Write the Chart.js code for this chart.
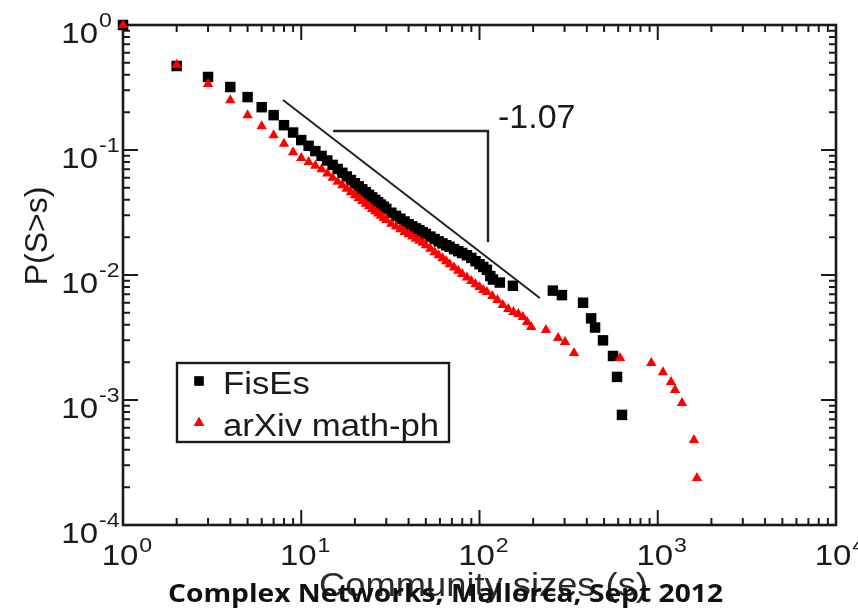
<!DOCTYPE html>
<html><head><meta charset="utf-8">
<script src="https://cdn.jsdelivr.net/npm/chart.js@4.4.0/dist/chart.umd.min.js"></script>
<style>html,body{margin:0;padding:0;background:#fff}canvas{display:block}</style>
</head><body>
<canvas id="c" width="858" height="608"></canvas>
<script>
// ---- data ----
const seriesNames = ['FisEs', 'arXiv math-ph'];

const fisesSizes = [1,2,3,4,5,6,7,8,9,10,11,12,13,14,15,16,17,18,19,20,21,22,23,24,25,26,27,28,29,30,
  32,34,36,38,40,42,44,46,48,50,53,56,59,62,65,68,72,76,80,85,90,95,100,105,110,115,119,130,154,
  258,290,381,423,445,493,561,591,630];
const fisesP = [1.0,0.47,0.384,0.319,0.265,0.22,0.19,0.158,0.138,0.120,0.108,0.098,0.0897,0.0824,0.076,0.0705,0.0657,0.0614,0.0575,0.0542,
  0.0512,0.0485,0.046,0.0438,0.0418,0.0399,0.0382,0.0366,0.0352,0.0338,
  0.0315,0.0297,0.0282,0.0268,0.0255,0.0245,0.0236,0.0228,0.022,0.0213,0.0203,0.0194,0.0186,0.0179,0.0173,0.0168,0.0161,0.0155,0.015,0.0144,0.0137,0.0129,0.0122,0.0116,0.011,0.0098,0.0092,0.0087,0.0082,
  0.0075,0.0069,0.0060,0.0045,0.0038,0.0030,0.00225,0.00153,0.00076];

const arxivSizes = [1,2,3,4,5,6,7,8,9,10,11,12,13,14,15,16,17,18,19,20,21,22,23,24,25,26,27,28,29,30,
  32,34,36,38,40,42,44,46,48,50,53,56,59,62,65,68,72,76,80,85,90,95,100,105,110,118,126,135,145,155,165,175,185,195,
  236,276,302,339,614,920,1070,1187,1250,1368,1596,1660];
const arxivP = [1.0,0.48,0.337,0.25,0.19,0.155,0.131,0.112,0.096,0.0863,0.0802,0.0748,0.0702,0.065,0.0601,0.0558,0.0522,0.049,0.0459,0.0435,
  0.0411,0.0391,0.0371,0.0354,0.0338,0.0324,0.031,0.0298,0.0286,0.0275,
  0.0257,0.0244,0.0232,0.0221,0.0212,0.0203,0.0195,0.0188,0.0181,0.0173,0.0162,0.0152,0.0144,0.0136,0.0129,0.0122,0.0115,0.0108,0.0102,0.00953,0.00895,0.00842,0.0080,0.0076,0.00731,0.00679,0.0063,0.00575,0.00535,0.00506,0.00488,0.00461,0.0042,0.00384,
  0.00363,0.00313,0.00291,0.00238,0.00217,0.00198,0.00167,0.00139,0.0012,0.000946,0.000479,0.000238];

// fitted power-law guide and slope bracket (data units)
const fitLineS = [7.9, 218];
const fitLineP = [0.251, 0.00655];
const bracketS = [15.1, 111.6, 111.6];
const bracketP = [0.142, 0.142, 0.0184];
const slopeLabel = '-1.07';
const slopeLabelAt = [127, 0.15];

const xTickExponents = [0, 1, 2, 3, 4];
const yTickExponents = [0, -1, -2, -3, -4];
const xTitle = 'Community sizes (s)';
const yTitle = 'P(S>s)';
const footerText = 'Complex Networks, Mallorca, Sept 2012';

// ---- drawing ----
const FONT = '"Liberation Sans", Arial, Helvetica, sans-serif';
const INK = '#1a1a1a';
const SX = 1.1; // horizontal stretch of the original picture's text

function sText(ctx, text, x, y, font, align, sx) {
  ctx.save();
  ctx.font = font;
  ctx.textAlign = 'left';
  ctx.textBaseline = 'alphabetic';
  const w = ctx.measureText(text).width * sx;
  let left = x;
  if (align === 'center') left = x - w / 2;
  else if (align === 'right') left = x - w;
  ctx.translate(left, y);
  ctx.scale(sx, 1);
  ctx.fillText(text, 0, 0);
  ctx.restore();
  return w;
}
const expStr = e => (e < 0 ? '-' + Math.abs(e) : String(e));

const framePlugin = {
  id: 'frame',
  beforeDatasetsDraw(chart) {
    const ctx = chart.ctx, xs = chart.scales.x, ys = chart.scales.y;
    const {left, right, top, bottom} = chart.chartArea;
    ctx.save();
    ctx.strokeStyle = INK;
    ctx.lineCap = 'butt';
    ctx.lineWidth = 2;
    const minorX = [], minorY = [];
    for (let d = 0; d < 4; d++) for (let m = 1; m <= 9; m++) minorX.push([m * Math.pow(10, d), m === 1]);
    for (let d = -4; d < 0; d++) for (let m = 1; m <= 9; m++) minorY.push([m * Math.pow(10, d), m === 1]);
    ctx.beginPath();
    minorX.forEach(([v, major]) => {
      const px = xs.getPixelForValue(v), L = major ? 15 : 7;
      ctx.moveTo(px, bottom); ctx.lineTo(px, bottom - L);
      ctx.moveTo(px, top); ctx.lineTo(px, top + L);
    });
    minorY.forEach(([v, major]) => {
      const py = ys.getPixelForValue(v), L = major ? 15 : 7;
      ctx.moveTo(left, py); ctx.lineTo(left + L, py);
      ctx.moveTo(right, py); ctx.lineTo(right - L, py);
    });
    ctx.stroke();
    ctx.lineWidth = 2.6;
    ctx.strokeRect(left, top, right - left, bottom - top);
    ctx.restore();
  }
};

const textPlugin = {
  id: 'texts',
  afterDatasetsDraw(chart) {
    const ctx = chart.ctx, xs = chart.scales.x, ys = chart.scales.y;
    const {left, right, top, bottom} = chart.chartArea;
    ctx.save();
    ctx.fillStyle = INK;
    // x tick labels
    xTickExponents.forEach(e => {
      const px = xs.getPixelForValue(Math.pow(10, e));
      const w = sText(ctx, '10', px - 3, bottom + 40, '30px ' + FONT, 'center', SX);
      sText(ctx, expStr(e), px - 3 + w / 2 + 1, bottom + 27, '21px ' + FONT, 'left', SX);
    });
    // y tick labels
    yTickExponents.forEach(e => {
      const py = ys.getPixelForValue(Math.pow(10, e));
      sText(ctx, '10', left - 25, py + 18, '30px ' + FONT, 'right', SX);
      sText(ctx, expStr(e), left - 24, py + 2, '21px ' + FONT, 'left', SX);
    });
    // y title
    ctx.save();
    ctx.translate(47, top + 211);
    ctx.rotate(-Math.PI / 2);
    ctx.font = '32px ' + FONT;
    ctx.textAlign = 'center';
    ctx.fillText(yTitle, 0, 0);
    ctx.restore();
    // slope label
    sText(ctx, slopeLabel, xs.getPixelForValue(slopeLabelAt[0]), ys.getPixelForValue(slopeLabelAt[1]), '34px ' + FONT, 'left', 1.0);

    // legend box
    const lx = 177, ly = 363, lw = 272, lh = 79;
    ctx.fillStyle = '#fff';
    ctx.fillRect(lx, ly, lw, lh);
    ctx.strokeStyle = INK; ctx.lineWidth = 2.4;
    ctx.strokeRect(lx, ly, lw, lh);
    const ds = chart.data.datasets;
    const items = [ds[1], ds[0]];
    items.forEach((d, i) => {
      const cy = ly + 18 + i * 42;
      ctx.fillStyle = d.backgroundColor;
      Chart.helpers.drawPoint(ctx, {pointStyle: d.pointStyle, radius: d.pointStyle === 'rect' ? 6.5 : 6, rotation: 0, borderWidth: 0}, 199, cy);
      ctx.fill();
      ctx.fillStyle = INK;
      sText(ctx, d.label, 223, cy + 13, '31px ' + FONT, 'left', 1.12);
    });

    // x title
    ctx.fillStyle = '#2a2a2a';
    sText(ctx, xTitle, (left + right) / 2 + 4, bottom + 71, '33px ' + FONT, 'center', SX);
    // footer overlay
    ctx.save();
    ctx.font = 'bold 25px "Open Sans", "DejaVu Sans", sans-serif';
    const fw = ctx.measureText(footerText).width;
    ctx.translate(168, 602);
    ctx.scale(555 / fw, 1);
    ctx.fillStyle = '#111';
    ctx.fillText(footerText, 0, 0);
    ctx.restore();
    ctx.restore();
  }
};

const toPts = (xv, yv) => xv.map((x, i) => ({x: x, y: yv[i]}));

new Chart(document.getElementById('c'), {
  type: 'scatter',
  data: {
    datasets: [
      {label: seriesNames[1], data: toPts(arxivSizes, arxivP), pointStyle: 'triangle', pointRadius: 6,
       backgroundColor: '#ff0000', borderColor: '#ff0000', borderWidth: 0, order: 0, clip: false},
      {label: seriesNames[0], data: toPts(fisesSizes, fisesP), pointStyle: 'rect', pointRadius: 7.4,
       backgroundColor: '#000000', borderColor: '#000000', borderWidth: 0, order: 1, clip: false},
      {type: 'line', label: 'fit', data: toPts(fitLineS, fitLineP), showLine: true, borderColor: '#222',
       borderWidth: 2, pointRadius: 0, fill: false, tension: 0, order: 2},
      {type: 'line', label: 'bracket', data: toPts(bracketS, bracketP), showLine: true, borderColor: '#222',
       borderWidth: 2.4, pointRadius: 0, fill: false, tension: 0, order: 2}
    ]
  },
  options: {
    responsive: false,
    animation: false,
    events: [],
    layout: {padding: {left: 123, top: 25, right: 22, bottom: 83}},
    plugins: {legend: {display: false}, tooltip: {enabled: false}},
    scales: {
      x: {type: 'logarithmic', min: 1, max: 10000, display: false},
      y: {type: 'logarithmic', min: 0.0001, max: 1, display: false}
    }
  },
  plugins: [framePlugin, textPlugin]
});
</script>
</body></html>
